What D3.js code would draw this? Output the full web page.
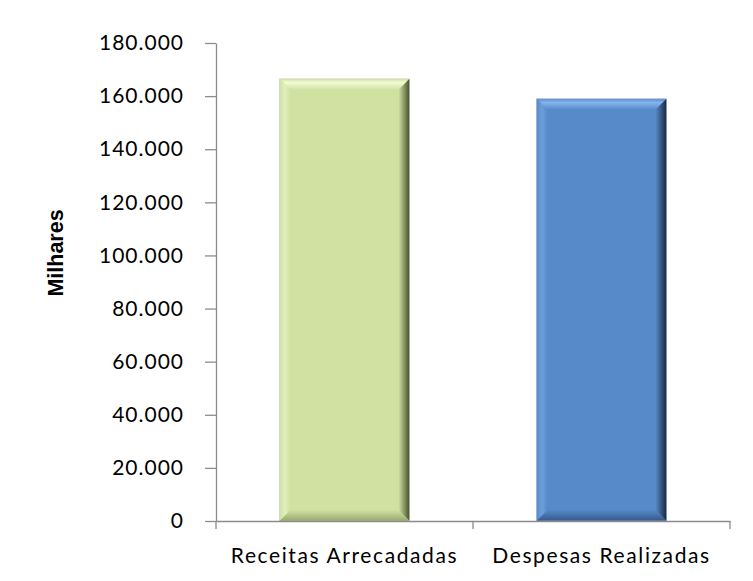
<!DOCTYPE html>
<html>
<head>
<meta charset="utf-8">
<script src="https://cdn.jsdelivr.net/npm/d3@7"></script>
<style>
  html, body { margin: 0; padding: 0; background: #fff; }
  svg { display: block; }
</style>
</head>
<body>
<svg id="chart" width="753" height="581"></svg>
<script>
// Receitas vs despesas (em milhares)
const categories = ["Receitas Arrecadadas", "Despesas Realizadas"];
const values = [166500, 159000];
const yTicks = [0, 20000, 40000, 60000, 80000, 100000, 120000, 140000, 160000, 180000];
const axisTitle = "Milhares";

// bevel palettes: base, top light, left light, right shade, bottom shade
const palettes = [
  { base: "#d0e1a2", top: "#f4fbd6", left: "#e2efbc", right: "#44502c", bottom: "#98a86c" },
  { base: "#578ac9", top: "#86b5ef", left: "#6d9fdd", right: "#17273f", bottom: "#34578a" }
];

const svg = d3.select("#chart");
const margin = { left: 216, right: 23, top: 43, bottom: 60 };
const W = 753, H = 581;

const x = d3.scaleBand().domain(categories).range([margin.left, W - margin.right])
  .paddingInner(0).paddingOuter(0);
const y = d3.scaleLinear().domain([0, 180000]).range([H - margin.bottom, margin.top]);

const fmt = v => d3.format(",")(v).replace(/,/g, ".");

const defs = svg.append("defs");
function grad(id, x1, y1, x2, y2, stops) {
  const g = defs.append("linearGradient").attr("id", id)
    .attr("x1", x1).attr("y1", y1).attr("x2", x2).attr("y2", y2);
  stops.forEach(s => g.append("stop").attr("offset", s[0]).attr("stop-color", s[1]));
}

// y axis
const yAxis = svg.append("g").attr("transform", `translate(${margin.left},0)`)
  .call(d3.axisLeft(y).tickValues(yTicks).tickFormat(fmt).tickSize(11).tickSizeOuter(0).tickPadding(21));
yAxis.select(".domain").attr("stroke", "#8c8c8c").attr("stroke-width", 1.3);
yAxis.selectAll(".tick line").attr("stroke", "#8c8c8c").attr("stroke-width", 1.3);
yAxis.selectAll("text").attr("font-family", "Lato, 'Open Sans', sans-serif")
  .attr("font-size", 21).attr("letter-spacing", 1).attr("fill", "#000");

// bars with bevel
const bw = 130;
categories.forEach((c, i) => {
  const p = palettes[i];
  const cx = x(c) + x.bandwidth() / 2;
  const x0 = cx - bw / 2, x1 = cx + bw / 2;
  const y0 = y(values[i]), y1 = y(0);
  const b = 11;
  grad(`gt${i}`, 0, 0, 0, 1, [[0, p.base], [0.35, p.top], [1, p.base]]);
  grad(`gl${i}`, 0, 0, 1, 0, [[0, p.base], [0.5, p.left], [1, p.base]]);
  grad(`gr${i}`, 0, 0, 1, 0, [[0, p.base], [1, p.right]]);
  grad(`gb${i}`, 0, 0, 0, 1, [[0, p.base], [1, p.bottom]]);
  const g = svg.append("g");
  g.append("rect").attr("x", x0).attr("y", y0).attr("width", bw).attr("height", y1 - y0).attr("fill", p.base);
  const poly = (pts, fill) => g.append("polygon").attr("points", pts.map(q => q.join(",")).join(" ")).attr("fill", fill);
  poly([[x0, y0], [x1, y0], [x1 - b, y0 + b], [x0 + b, y0 + b]], `url(#gt${i})`);
  poly([[x0, y0], [x0 + b, y0 + b], [x0 + b, y1 - b], [x0, y1]], `url(#gl${i})`);
  poly([[x1, y0], [x1, y1], [x1 - b, y1 - b], [x1 - b, y0 + b]], `url(#gr${i})`);
  poly([[x0, y1], [x0 + b, y1 - b], [x1 - b, y1 - b], [x1, y1]], `url(#gb${i})`);
  g.append("rect").attr("x", x0).attr("y", y0).attr("width", bw).attr("height", y1 - y0)
    .attr("fill", "none").attr("stroke", "#c8c8c8").attr("stroke-opacity", 0.5).attr("stroke-width", 0.8);
});

// x axis
const xAxis = svg.append("g").attr("transform", `translate(0,${y(0)})`)
  .call(d3.axisBottom(x).tickSize(0).tickPadding(27));
xAxis.select(".domain").attr("stroke", "#8c8c8c").attr("stroke-width", 1.3);
xAxis.selectAll("text").attr("font-family", "Lato, 'Open Sans', sans-serif")
  .attr("font-size", 21).attr("letter-spacing", 1.6).attr("fill", "#000");
const bounds = [x.range()[0], x(categories[1]), x.range()[1]];
xAxis.selectAll(".sep").data(bounds).enter().append("line")
  .attr("x1", d => d).attr("x2", d => d).attr("y1", 0).attr("y2", 8)
  .attr("stroke", "#8c8c8c").attr("stroke-width", 1.3);

// axis title
svg.append("text").attr("transform", `translate(63,253) rotate(-90)`)
  .attr("text-anchor", "middle").attr("font-family", "'Liberation Sans', Arial, sans-serif")
  .attr("font-weight", "bold").attr("font-size", 21.5).attr("fill", "#000").text(axisTitle);
</script>
</body>
</html>
